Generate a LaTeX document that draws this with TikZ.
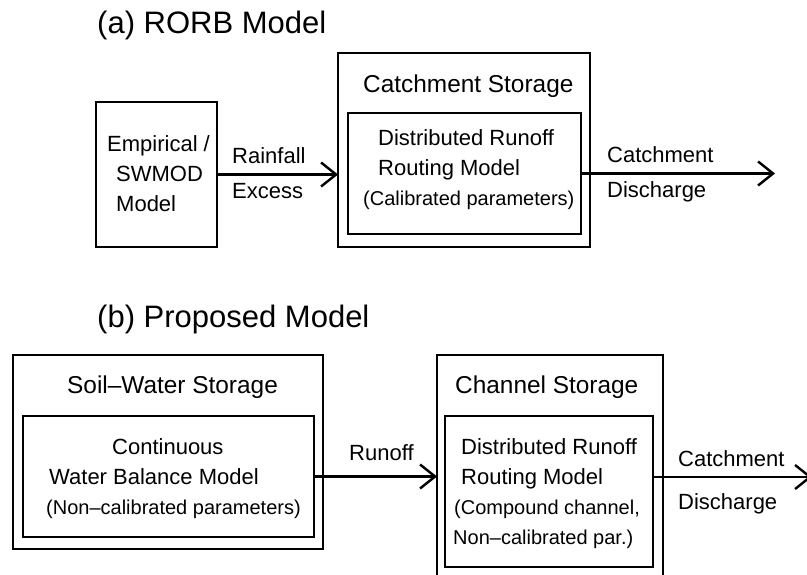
\documentclass[tikz,border=0pt]{standalone}
\usepackage{fontspec}
\setmainfont{Liberation Sans}
\usetikzlibrary{arrows.meta}
\begin{document}
\begin{tikzpicture}[x=1pt,y=-1pt,
  box/.style={draw, line width=1.3pt, inner sep=0pt, outer sep=0pt, anchor=north west},
  txt/.style={anchor=base west, inner sep=0pt, font=\fontsize{22}{26}\selectfont},
  sml/.style={anchor=base west, inner sep=0pt, font=\fontsize{20}{24}\selectfont},
  hdr/.style={anchor=base west, inner sep=0pt, font=\fontsize{24.4}{28}\selectfont},
  ttl/.style={anchor=base west, inner sep=0pt, font=\fontsize{31}{36}\selectfont},
  flow/.style={line width=2.4pt, -{Straight Barb[length=15pt,width=24pt]}}
]
\useasboundingbox (0,0) rectangle (807,575);
\clip (0,0) rectangle (807,575);

% boxes
\node[box, minimum width=121pt, minimum height=145pt] (emp) at (96,102) {};
\node[box, minimum width=252pt, minimum height=194pt] (cs) at (338,53) {};
\node[box, minimum width=233pt, minimum height=121pt] (csin) at (348,113) {};
\node[box, minimum width=310pt, minimum height=194pt] (sw) at (13,355) {};
\node[box, minimum width=291pt, minimum height=121pt] (swin) at (23,416) {};
\node[box, minimum width=226pt, minimum height=240pt] (ch) at (437,355) {};
\node[box, minimum width=208pt, minimum height=151pt] (chin) at (445,416) {};

% connectors
\draw[flow] (emp.east) -- (emp.east -| cs.west);
\coordinate (o1) at (775,173.5);
\draw[flow] (csin.east) -- (o1);
\draw[flow] (swin.east) -- (swin.east -| ch.west);
\coordinate (o2) at (812,477);
\draw[flow] (o2 -| chin.east) -- (o2);

% texts
\node[ttl] (ta) at (97,34) {(a) RORB Model};
\node[ttl] (tb) at (97,327) {(b) Proposed Model};
\node[txt] (e1) at (107,152) {Empirical /};
\node[txt] (e2) at (116,182) {SWMOD};
\node[txt] (e3) at (116,212) {Model};
\node[txt] (l1) at (232,164) {Rainfall};
\node[txt] (l2) at (232,199) {Excess};
\node[hdr] (h1) at (363,92.5) {Catchment Storage};
\node[txt] (d1) at (378,146) {Distributed Runoff};
\node[txt] (d2) at (378,176) {Routing Model};
\node[sml] (d3) at (363,206) {(Calibrated parameters)};
\node[txt] (c1) at (607,163) {Catchment};
\node[txt] (c2) at (607,198) {Discharge};
\node[hdr] (h2) at (67,393) {Soil–Water Storage};
\node[txt] (w1) at (112,454) {Continuous};
\node[txt] (w2) at (49,484) {Water Balance Model};
\node[sml] (w3) at (46,514) {(Non–calibrated parameters)};
\node[txt] (r1) at (349,460) {Runoff};
\node[hdr] (h3) at (455,393) {Channel Storage};
\node[txt] (k1) at (461,454) {Distributed Runoff};
\node[txt] (k2) at (461,484) {Routing Model};
\node[sml] (k3) at (454,514) {(Compound channel,};
\node[sml] (k4) at (453,544) {Non–calibrated par.)};
\node[txt] (c3) at (678,466) {Catchment};
\node[txt] (c4) at (678,509) {Discharge};
\end{tikzpicture}
\end{document}
